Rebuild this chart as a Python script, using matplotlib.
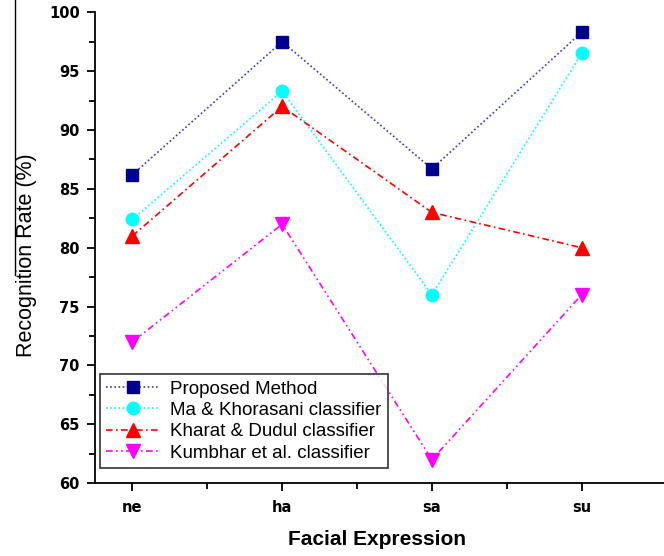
import numpy as np
import matplotlib
matplotlib.use("Agg")
import matplotlib.pyplot as plt
from matplotlib.lines import Line2D

plt.rcParams['font.family'] = ['Liberation Sans', 'DejaVu Sans']

expressions = ['ne', 'ha', 'sa', 'su']
proposed = [86.2, 97.5, 86.7, 98.3]
ma_khorasani = [82.4, 93.3, 76.0, 96.5]
kharat_dudul = [81.0, 92.0, 83.0, 80.0]
kumbhar = [72.0, 82.0, 62.0, 76.0]

fig = plt.figure(figsize=(6.64, 5.56), dpi=100)
ax = fig.add_axes([0.143, 0.131, 0.857, 0.847])

x = np.arange(len(expressions))
ax.plot(x, proposed, color='#3838c8', ls=(0, (1, 1.5)), lw=1.2,
        marker='s', ms=8, mfc='#000090', mec='#000090', label='Proposed Method')
ax.plot(x, ma_khorasani, color='cyan', ls=(0, (1, 1.5)), lw=1.2,
        marker='o', ms=9, mfc='cyan', mec='cyan', label='Ma & Khorasani classifier')
ax.plot(x, kharat_dudul, color='red', ls=(0, (4, 2, 1, 2)), lw=1.2,
        marker='^', ms=10, mfc='red', mec='red', label='Kharat & Dudul classifier')
ax.plot(x, kumbhar, color='magenta', ls=(0, (4, 2, 1, 2, 1, 2)), lw=1.2,
        marker='v', ms=10, mfc='magenta', mec='magenta', label='Kumbhar et al. classifier')

ax.set_xlim(-0.25, 3.55)
ax.set_ylim(60, 100)
ax.set_xticks(x)
ax.set_xticklabels(expressions)
ax.set_xticks([0.5, 1.5, 2.5], minor=True)
ax.set_yticks(np.arange(60, 101, 5))
ax.set_yticks(np.arange(62.5, 100, 5), minor=True)
ax.spines['top'].set_visible(False)
ax.spines['right'].set_visible(False)
for s in ['left', 'bottom']:
    ax.spines[s].set_linewidth(1.3)
ax.tick_params(which='major', direction='out', length=6, width=1.3)
ax.tick_params(which='minor', direction='out', length=4, width=1.3)
ax.tick_params(axis='x', which='major', pad=6)
ax.tick_params(axis='y', which='major', pad=5)
for lab in ax.get_xticklabels() + ax.get_yticklabels():
    lab.set_fontweight('heavy')
    lab.set_family('DejaVu Sans')
    lab.set_fontsize(10.5)

ax.set_xlabel('Facial Expression', fontsize=15, fontweight='bold')
ax.xaxis.set_label_coords(0.495, -0.100)
ax.set_ylabel('Recognition Rate (%)', fontsize=15.5)
ax.yaxis.set_label_coords(-0.102, 0.485)

leg = ax.legend(loc='lower left', bbox_to_anchor=(0.008, 0.032), fontsize=13.5,
                handlelength=2.9, frameon=True, fancybox=False, borderpad=0.35,
                labelspacing=0.22, handletextpad=0.5, borderaxespad=0)
leg.get_frame().set_edgecolor('black')
leg.get_frame().set_linewidth(1.2)

fig.add_artist(Line2D([15 / 664, 15 / 664], [1, 1 - 275 / 556], color='black', lw=1))

plt.savefig('out.png', dpi=100)
